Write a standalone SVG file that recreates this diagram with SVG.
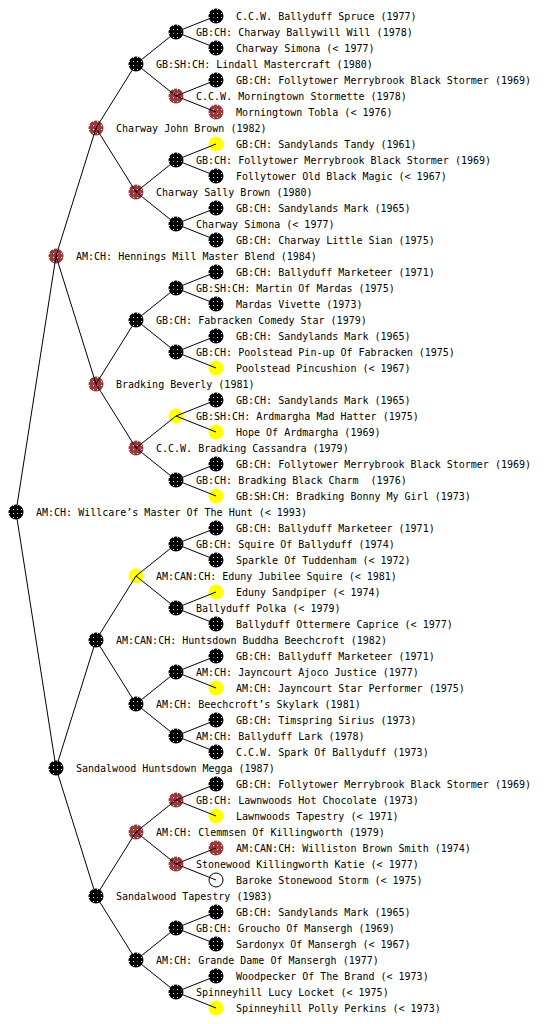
<svg xmlns="http://www.w3.org/2000/svg" width="560" height="1024" viewBox="0 0 560 1024">
<style>
text{font-family:"DejaVu Sans Mono","Liberation Mono",monospace;font-size:10px;fill:#000}
.k{fill:url(#pk)}
.b{fill:url(#pb)}
.y{fill:url(#py)}
.w{fill:none;stroke:#000;stroke-width:1}
#connectors line{stroke:#000;stroke-width:1}
</style>
<defs>
<pattern id="pk" width="4" height="4" patternUnits="userSpaceOnUse"><rect width="4" height="4" fill="#000"/><rect x="1" y="1" width="1" height="1" fill="#fff"/></pattern>
<pattern id="pb" width="4" height="4" patternUnits="userSpaceOnUse"><rect width="4" height="4" fill="#9b3a3a"/><rect x="1" y="1" width="1" height="1" fill="#fff"/></pattern>
<pattern id="py" width="4" height="4" patternUnits="userSpaceOnUse"><rect width="4" height="4" fill="#ffff00"/><rect x="1" y="1" width="1" height="1" fill="#ffff99"/></pattern>
</defs>
<rect width="560" height="1024" fill="#fff"/>
<g id="nodes">
<g id="n1"><circle class="k" cx="216" cy="16" r="7.5"/><text x="236" y="20">C.C.W. Ballyduff Spruce (1977)</text></g>
<g id="n2"><circle class="k" cx="176" cy="32" r="7.5"/><text x="196" y="36">GB:CH: Charway Ballywill Will (1978)</text></g>
<g id="n3"><circle class="k" cx="216" cy="48" r="7.5"/><text x="236" y="52">Charway Simona (&lt; 1977)</text></g>
<g id="n4"><circle class="k" cx="136" cy="64" r="7.5"/><text x="156" y="68">GB:SH:CH: Lindall Mastercraft (1980)</text></g>
<g id="n5"><circle class="k" cx="216" cy="80" r="7.5"/><text x="236" y="84">GB:CH: Follytower Merrybrook Black Stormer (1969)</text></g>
<g id="n6"><circle class="b" cx="176" cy="96" r="7.5"/><text x="196" y="100">C.C.W. Morningtown Stormette (1978)</text></g>
<g id="n7"><circle class="b" cx="216" cy="112" r="7.5"/><text x="236" y="116">Morningtown Tobla (&lt; 1976)</text></g>
<g id="n8"><circle class="b" cx="96" cy="128" r="7.5"/><text x="116" y="132">Charway John Brown (1982)</text></g>
<g id="n9"><circle class="y" cx="216" cy="144" r="7.5"/><text x="236" y="148">GB:CH: Sandylands Tandy (1961)</text></g>
<g id="n10"><circle class="k" cx="176" cy="160" r="7.5"/><text x="196" y="164">GB:CH: Follytower Merrybrook Black Stormer (1969)</text></g>
<g id="n11"><circle class="k" cx="216" cy="176" r="7.5"/><text x="236" y="180">Follytower Old Black Magic (&lt; 1967)</text></g>
<g id="n12"><circle class="b" cx="136" cy="192" r="7.5"/><text x="156" y="196">Charway Sally Brown (1980)</text></g>
<g id="n13"><circle class="k" cx="216" cy="208" r="7.5"/><text x="236" y="212">GB:CH: Sandylands Mark (1965)</text></g>
<g id="n14"><circle class="k" cx="176" cy="224" r="7.5"/><text x="196" y="228">Charway Simona (&lt; 1977)</text></g>
<g id="n15"><circle class="k" cx="216" cy="240" r="7.5"/><text x="236" y="244">GB:CH: Charway Little Sian (1975)</text></g>
<g id="n16"><circle class="b" cx="56" cy="256" r="7.5"/><text x="76" y="260">AM:CH: Hennings Mill Master Blend (1984)</text></g>
<g id="n17"><circle class="k" cx="216" cy="272" r="7.5"/><text x="236" y="276">GB:CH: Ballyduff Marketeer (1971)</text></g>
<g id="n18"><circle class="k" cx="176" cy="288" r="7.5"/><text x="196" y="292">GB:SH:CH: Martin Of Mardas (1975)</text></g>
<g id="n19"><circle class="k" cx="216" cy="304" r="7.5"/><text x="236" y="308">Mardas Vivette (1973)</text></g>
<g id="n20"><circle class="k" cx="136" cy="320" r="7.5"/><text x="156" y="324">GB:CH: Fabracken Comedy Star (1979)</text></g>
<g id="n21"><circle class="k" cx="216" cy="336" r="7.5"/><text x="236" y="340">GB:CH: Sandylands Mark (1965)</text></g>
<g id="n22"><circle class="k" cx="176" cy="352" r="7.5"/><text x="196" y="356">GB:CH: Poolstead Pin-up Of Fabracken (1975)</text></g>
<g id="n23"><circle class="y" cx="216" cy="368" r="7.5"/><text x="236" y="372">Poolstead Pincushion (&lt; 1967)</text></g>
<g id="n24"><circle class="b" cx="96" cy="384" r="7.5"/><text x="116" y="388">Bradking Beverly (1981)</text></g>
<g id="n25"><circle class="k" cx="216" cy="400" r="7.5"/><text x="236" y="404">GB:CH: Sandylands Mark (1965)</text></g>
<g id="n26"><circle class="y" cx="176" cy="416" r="7.5"/><text x="196" y="420">GB:SH:CH: Ardmargha Mad Hatter (1975)</text></g>
<g id="n27"><circle class="y" cx="216" cy="432" r="7.5"/><text x="236" y="436">Hope Of Ardmargha (1969)</text></g>
<g id="n28"><circle class="b" cx="136" cy="448" r="7.5"/><text x="156" y="452">C.C.W. Bradking Cassandra (1979)</text></g>
<g id="n29"><circle class="k" cx="216" cy="464" r="7.5"/><text x="236" y="468">GB:CH: Follytower Merrybrook Black Stormer (1969)</text></g>
<g id="n30"><circle class="k" cx="176" cy="480" r="7.5"/><text x="196" y="484" xml:space="preserve">GB:CH: Bradking Black Charm  (1976)</text></g>
<g id="n31"><circle class="y" cx="216" cy="496" r="7.5"/><text x="236" y="500">GB:SH:CH: Bradking Bonny My Girl (1973)</text></g>
<g id="n32"><circle class="k" cx="16" cy="512" r="7.5"/><text x="36" y="516">AM:CH: Willcare’s Master Of The Hunt (&lt; 1993)</text></g>
<g id="n33"><circle class="k" cx="216" cy="528" r="7.5"/><text x="236" y="532">GB:CH: Ballyduff Marketeer (1971)</text></g>
<g id="n34"><circle class="k" cx="176" cy="544" r="7.5"/><text x="196" y="548">GB:CH: Squire Of Ballyduff (1974)</text></g>
<g id="n35"><circle class="k" cx="216" cy="560" r="7.5"/><text x="236" y="564">Sparkle Of Tuddenham (&lt; 1972)</text></g>
<g id="n36"><circle class="y" cx="136" cy="576" r="7.5"/><text x="156" y="580">AM:CAN:CH: Eduny Jubilee Squire (&lt; 1981)</text></g>
<g id="n37"><circle class="y" cx="216" cy="592" r="7.5"/><text x="236" y="596">Eduny Sandpiper (&lt; 1974)</text></g>
<g id="n38"><circle class="k" cx="176" cy="608" r="7.5"/><text x="196" y="612">Ballyduff Polka (&lt; 1979)</text></g>
<g id="n39"><circle class="k" cx="216" cy="624" r="7.5"/><text x="236" y="628">Ballyduff Ottermere Caprice (&lt; 1977)</text></g>
<g id="n40"><circle class="k" cx="96" cy="640" r="7.5"/><text x="116" y="644">AM:CAN:CH: Huntsdown Buddha Beechcroft (1982)</text></g>
<g id="n41"><circle class="k" cx="216" cy="656" r="7.5"/><text x="236" y="660">GB:CH: Ballyduff Marketeer (1971)</text></g>
<g id="n42"><circle class="k" cx="176" cy="672" r="7.5"/><text x="196" y="676">AM:CH: Jayncourt Ajoco Justice (1977)</text></g>
<g id="n43"><circle class="y" cx="216" cy="688" r="7.5"/><text x="236" y="692">AM:CH: Jayncourt Star Performer (1975)</text></g>
<g id="n44"><circle class="k" cx="136" cy="704" r="7.5"/><text x="156" y="708">AM:CH: Beechcroft’s Skylark (1981)</text></g>
<g id="n45"><circle class="k" cx="216" cy="720" r="7.5"/><text x="236" y="724">GB:CH: Timspring Sirius (1973)</text></g>
<g id="n46"><circle class="k" cx="176" cy="736" r="7.5"/><text x="196" y="740">AM:CH: Ballyduff Lark (1978)</text></g>
<g id="n47"><circle class="k" cx="216" cy="752" r="7.5"/><text x="236" y="756">C.C.W. Spark Of Ballyduff (1973)</text></g>
<g id="n48"><circle class="k" cx="56" cy="768" r="7.5"/><text x="76" y="772">Sandalwood Huntsdown Megga (1987)</text></g>
<g id="n49"><circle class="k" cx="216" cy="784" r="7.5"/><text x="236" y="788">GB:CH: Follytower Merrybrook Black Stormer (1969)</text></g>
<g id="n50"><circle class="b" cx="176" cy="800" r="7.5"/><text x="196" y="804">GB:CH: Lawnwoods Hot Chocolate (1973)</text></g>
<g id="n51"><circle class="y" cx="216" cy="816" r="7.5"/><text x="236" y="820">Lawnwoods Tapestry (&lt; 1971)</text></g>
<g id="n52"><circle class="b" cx="136" cy="832" r="7.5"/><text x="156" y="836">AM:CH: Clemmsen Of Killingworth (1979)</text></g>
<g id="n53"><circle class="b" cx="216" cy="848" r="7.5"/><text x="236" y="852">AM:CAN:CH: Williston Brown Smith (1974)</text></g>
<g id="n54"><circle class="b" cx="176" cy="864" r="7.5"/><text x="196" y="868">Stonewood Killingworth Katie (&lt; 1977)</text></g>
<g id="n55"><circle class="w" cx="216" cy="880" r="7"/><text x="236" y="884">Baroke Stonewood Storm (&lt; 1975)</text></g>
<g id="n56"><circle class="k" cx="96" cy="896" r="7.5"/><text x="116" y="900">Sandalwood Tapestry (1983)</text></g>
<g id="n57"><circle class="k" cx="216" cy="912" r="7.5"/><text x="236" y="916">GB:CH: Sandylands Mark (1965)</text></g>
<g id="n58"><circle class="k" cx="176" cy="928" r="7.5"/><text x="196" y="932">GB:CH: Groucho Of Mansergh (1969)</text></g>
<g id="n59"><circle class="k" cx="216" cy="944" r="7.5"/><text x="236" y="948">Sardonyx Of Mansergh (&lt; 1967)</text></g>
<g id="n60"><circle class="k" cx="136" cy="960" r="7.5"/><text x="156" y="964">AM:CH: Grande Dame Of Mansergh (1977)</text></g>
<g id="n61"><circle class="k" cx="216" cy="976" r="7.5"/><text x="236" y="980">Woodpecker Of The Brand (&lt; 1973)</text></g>
<g id="n62"><circle class="k" cx="176" cy="992" r="7.5"/><text x="196" y="996">Spinneyhill Lucy Locket (&lt; 1975)</text></g>
<g id="n63"><circle class="y" cx="216" cy="1008" r="7.5"/><text x="236" y="1012">Spinneyhill Polly Perkins (&lt; 1973)</text></g>
</g>
<g id="connectors">
<line x1="16" y1="512" x2="56" y2="256"/><line x1="16" y1="512" x2="56" y2="768"/>
<line x1="56" y1="256" x2="96" y2="128"/><line x1="56" y1="256" x2="96" y2="384"/>
<line x1="56" y1="768" x2="96" y2="640"/><line x1="56" y1="768" x2="96" y2="896"/>
<line x1="96" y1="128" x2="136" y2="64"/><line x1="96" y1="128" x2="136" y2="192"/>
<line x1="96" y1="384" x2="136" y2="320"/><line x1="96" y1="384" x2="136" y2="448"/>
<line x1="96" y1="640" x2="136" y2="576"/><line x1="96" y1="640" x2="136" y2="704"/>
<line x1="96" y1="896" x2="136" y2="832"/><line x1="96" y1="896" x2="136" y2="960"/>
<line x1="136" y1="64" x2="176" y2="32"/><line x1="136" y1="64" x2="176" y2="96"/>
<line x1="136" y1="192" x2="176" y2="160"/><line x1="136" y1="192" x2="176" y2="224"/>
<line x1="136" y1="320" x2="176" y2="288"/><line x1="136" y1="320" x2="176" y2="352"/>
<line x1="136" y1="448" x2="176" y2="416"/><line x1="136" y1="448" x2="176" y2="480"/>
<line x1="136" y1="576" x2="176" y2="544"/><line x1="136" y1="576" x2="176" y2="608"/>
<line x1="136" y1="704" x2="176" y2="672"/><line x1="136" y1="704" x2="176" y2="736"/>
<line x1="136" y1="832" x2="176" y2="800"/><line x1="136" y1="832" x2="176" y2="864"/>
<line x1="136" y1="960" x2="176" y2="928"/><line x1="136" y1="960" x2="176" y2="992"/>
<line x1="176" y1="32" x2="216" y2="16"/><line x1="176" y1="32" x2="216" y2="48"/>
<line x1="176" y1="96" x2="216" y2="80"/><line x1="176" y1="96" x2="216" y2="112"/>
<line x1="176" y1="160" x2="216" y2="144"/><line x1="176" y1="160" x2="216" y2="176"/>
<line x1="176" y1="224" x2="216" y2="208"/><line x1="176" y1="224" x2="216" y2="240"/>
<line x1="176" y1="288" x2="216" y2="272"/><line x1="176" y1="288" x2="216" y2="304"/>
<line x1="176" y1="352" x2="216" y2="336"/><line x1="176" y1="352" x2="216" y2="368"/>
<line x1="176" y1="416" x2="216" y2="400"/><line x1="176" y1="416" x2="216" y2="432"/>
<line x1="176" y1="480" x2="216" y2="464"/><line x1="176" y1="480" x2="216" y2="496"/>
<line x1="176" y1="544" x2="216" y2="528"/><line x1="176" y1="544" x2="216" y2="560"/>
<line x1="176" y1="608" x2="216" y2="592"/><line x1="176" y1="608" x2="216" y2="624"/>
<line x1="176" y1="672" x2="216" y2="656"/><line x1="176" y1="672" x2="216" y2="688"/>
<line x1="176" y1="736" x2="216" y2="720"/><line x1="176" y1="736" x2="216" y2="752"/>
<line x1="176" y1="800" x2="216" y2="784"/><line x1="176" y1="800" x2="216" y2="816"/>
<line x1="176" y1="864" x2="216" y2="848"/><line x1="176" y1="864" x2="216" y2="880"/>
<line x1="176" y1="928" x2="216" y2="912"/><line x1="176" y1="928" x2="216" y2="944"/>
<line x1="176" y1="992" x2="216" y2="976"/><line x1="176" y1="992" x2="216" y2="1008"/>
</g>
</svg>
